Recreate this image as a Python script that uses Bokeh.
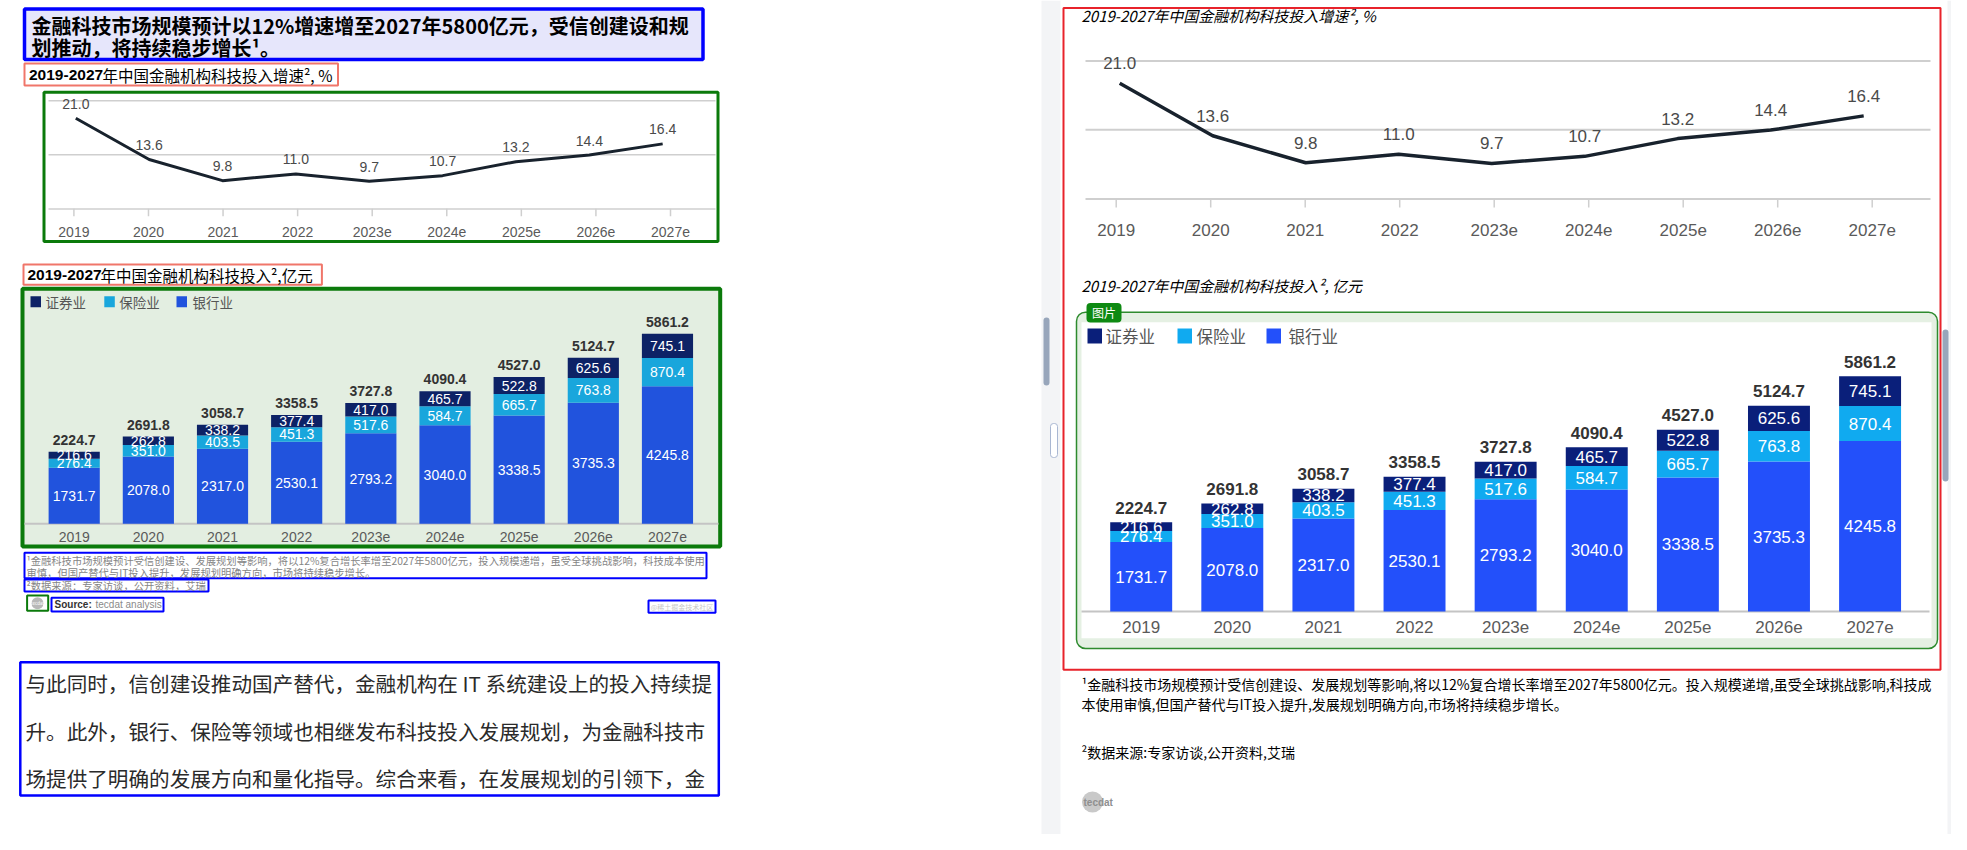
import numpy as np
from bokeh.plotting import figure
from bokeh.models import Range1d, ColumnDataSource
from bokeh.core.properties import value
from bokeh.embed import file_html
from bokeh.resources import INLINE

# ---------------- data ----------------
YEARS = ["2019", "2020", "2021", "2022", "2023e", "2024e", "2025e", "2026e", "2027e"]
GROWTH = [21.0, 13.6, 9.8, 11.0, 9.7, 10.7, 13.2, 14.4, 16.4]
SERIES = ["证券业", "保险业", "银行业"]
SECURITIES = [216.6, 262.8, 338.2, 377.4, 417.0, 465.7, 522.8, 625.6, 745.1]
INSURANCE = [276.4, 351.0, 403.5, 451.3, 517.6, 584.7, 665.7, 763.8, 870.4]
BANKING = [1731.7, 2078.0, 2317.0, 2530.1, 2793.2, 3040.0, 3338.5, 3735.3, 4245.8]
TOTALS = [2224.7, 2691.8, 3058.7, 3358.5, 3727.8, 4090.4, 4527.0, 5124.7, 5861.2]

TITLE_LINES = ["金融科技市场规模预计以12%增速增至2027年5800亿元，受信创建设和规",
               "划推动，将持续稳步增长¹。"]
SUB1_BOLD, SUB1_REST = "2019-2027", "年中国金融机构科技投入增速², %"
SUB2_BOLD, SUB2_REST = "2019-2027", "年中国金融机构科技投入²,亿元"
NOTE_LEFT = ["¹金融科技市场规模预计受信创建设、发展规划等影响，将以12%复合增长率增至2027年5800亿元，投入规模递增，虽受全球挑战影响，科技成本使用",
             "审慎，但国产替代与IT投入提升，发展规划明确方向，市场将持续稳步增长。"]
SOURCE_LEFT = "²数据来源：专家访谈，公开资料，艾瑞"
PARAGRAPH = ["与此同时，信创建设推动国产替代，金融机构在 IT 系统建设上的投入持续提",
             "升。此外，银行、保险等领域也相继发布科技投入发展规划，为金融科技市",
             "场提供了明确的发展方向和量化指导。综合来看，在发展规划的引领下，金"]
R_TITLE1 = "2019-2027年中国金融机构科技投入增速², %"
R_TITLE2 = "2019-2027年中国金融机构科技投入², 亿元"
NOTE_RIGHT = ["¹金融科技市场规模预计受信创建设、发展规划等影响,将以12%复合增长率增至2027年5800亿元。投入规模递增,虽受全球挑战影响,科技成",
              "本使用审慎,但国产替代与IT投入提升,发展规划明确方向,市场将持续稳步增长。"]
SOURCE_RIGHT = "²数据来源:专家访谈,公开资料,艾瑞"

CJK = "Noto Sans CJK SC"
LAT = "Liberation Sans"

# ---------------- canvas ----------------
X0, X1 = 0, 1951      # page pixel at frame left / right
YB, YT = 834, 0       # page pixel at frame bottom / top

p = figure(width=X1 - X0, height=YB - YT, x_range=Range1d(X0, X1), y_range=Range1d(YB, YT),
           output_backend="svg", toolbar_location=None, min_border=0,
           x_axis_location=None, y_axis_location=None,
           outline_line_color=None, background_fill_color="white", border_fill_color="white")
p.grid.visible = False

xr_d, yr_d = {}, {}


def xr(name, p0, v0, p1, v1):
    s = (v1 - v0) / (p1 - p0)
    xr_d[name] = Range1d(start=v0 + (X0 - p0) * s, end=v0 + (X1 - p0) * s)


def yr(name, p0, v0, p1, v1):
    s = (v1 - v0) / (p1 - p0)
    yr_d[name] = Range1d(start=v0 + (YB - p0) * s, end=v0 + (YT - p0) * s)


def box(l, r, t, b, fill=None, line=None, lw=1.0, radius=0):
    kw = {}
    if radius:
        kw["border_radius"] = radius
    p.quad(left=[l], right=[r], top=[t], bottom=[b], fill_color=fill,
           line_color=line, line_width=lw, **kw)


def txt(x, y, s, size, color="#000000", font=CJK, style="normal", align="left", **kw):
    p.text(x=[x], y=[y], text=[s], text_font=value(font), text_font_size=f"{size}px",
           text_color=color, text_font_style=style, text_align=align,
           text_baseline="middle", **kw)


idx = list(range(len(YEARS)))

# ---------------- page backgrounds ----------------
box(1041, 1061, 0, 850, fill="#f3f4f6")
box(1947, 1967, 0, 850, fill="#f3f4f6")
box(1043, 1049, 317, 385, fill="#98a6bb", radius=3)
box(1050, 1057, 423, 457, fill="white", line="#a9b7d2", lw=1, radius=3)

# ---------------- line chart ----------------
GRID_LEVELS = [4.7, 14.44, 24.13]


def line_chart(tag, lab0, lab_step, pt0, pt_step, y_zero, k, gx0, gx1, tick_y0, tick_y1,
               lab_y, lab_size, val_size, val_off, lw, grid_w):
    xr(tag + "lx", lab0, 0, lab0 + lab_step * 8, 8)
    xr(tag + "px", pt0, 0, pt0 + pt_step * 8, 8)
    yr(tag + "y", y_zero, 0, y_zero - 10 * k, 10)
    p.segment(x0=[gx0] * 3, x1=[gx1] * 3, y0=GRID_LEVELS, y1=GRID_LEVELS,
              y_range_name=tag + "y", line_color="#cfcfcf", line_width=grid_w)
    p.segment(x0=idx, x1=idx, y0=[tick_y0] * 9, y1=[tick_y1] * 9,
              x_range_name=tag + "lx", line_color="#cfcfcf", line_width=1.5)
    src = ColumnDataSource(dict(x=idx, y=GROWTH, lab=[f"{v:.1f}" for v in GROWTH]))
    p.line(x="x", y="y", source=src, x_range_name=tag + "px", y_range_name=tag + "y",
           line_color="#18222d", line_width=lw, line_join="round")
    p.text(x="x", y="y", text="lab", source=src, x_range_name=tag + "px", y_range_name=tag + "y",
           y_offset=val_off, text_font=value(LAT), text_font_size=f"{val_size}px",
           text_color="#4a4a4a", text_align="center", text_baseline="middle")
    p.text(x=idx, y=[lab_y] * 9, text=YEARS, x_range_name=tag + "lx",
           text_font=value(LAT), text_font_size=f"{lab_size}px", text_color="#5a5a5a",
           text_align="center", text_baseline="middle")


def bar_chart(tag, x0, step, width, y_zero, k, ax0, ax1, lab_y, size, tot_off, colors):
    xr(tag + "x", x0, 0, x0 + step * 8, 8)
    yr(tag + "y", y_zero, 0, y_zero - k * 1000, 1000)
    p.segment(x0=[ax0], x1=[ax1], y0=[0], y1=[0], y_range_name=tag + "y",
              line_color="#c4c4c4", line_width=2)
    bottom = np.zeros(len(YEARS))
    for vals, col in zip([BANKING, INSURANCE, SECURITIES], [colors[2], colors[1], colors[0]]):
        vals = np.array(vals)
        top = bottom + vals
        src = ColumnDataSource(dict(x=idx, b=bottom, t=top, m=(bottom + top) / 2,
                                    lab=[f"{v:.1f}" for v in vals]))
        p.vbar(x="x", width=width, bottom="b", top="t", source=src, fill_color=col,
               line_color=None, x_range_name=tag + "x", y_range_name=tag + "y")
        p.text(x="x", y="m", text="lab", source=src, x_range_name=tag + "x",
               y_range_name=tag + "y", text_font=value(LAT), text_font_size=f"{size}px",
               text_color="white", text_align="center", text_baseline="middle")
        bottom = top
    tsrc = ColumnDataSource(dict(x=idx, t=bottom, lab=[f"{v:.1f}" for v in TOTALS]))
    p.text(x="x", y="t", text="lab", source=tsrc, x_range_name=tag + "x", y_range_name=tag + "y",
           y_offset=tot_off, text_font=value(LAT), text_font_size=f"{size}px",
           text_font_style="bold", text_color="#333333", text_align="center",
           text_baseline="middle")
    p.text(x=idx, y=[lab_y] * 9, text=YEARS, x_range_name=tag + "x",
           text_font=value(LAT), text_font_size=f"{size}px", text_color="#5a5a5a",
           text_align="center", text_baseline="middle")


# ================= LEFT PANEL =================
box(24, 702.5, 8.5, 59, fill="#e6e6fb", line="#0000ff", lw=3.5)
txt(31, 25, TITLE_LINES[0], 20, style="bold")
txt(31, 47, TITLE_LINES[1], 20, style="bold")

box(24, 337.5, 63, 85, line="#f0766a", lw=2)
txt(28.5, 74.5, SUB1_BOLD, 15.5, font=LAT, style="bold")
txt(102, 74.5, SUB1_REST, 15.5)

box(43.5, 717.5, 91.7, 241, fill="white", line="#0b7a0b", lw=3)
line_chart("L", 73.4, 74.575, 75.3, 73.36, 234.8, 5.575, 48, 715, 208.3, 215.7,
           231.7, 14, 14, -14.5, 3, 1.5)

box(23, 321.4, 264, 284.3, line="#f0766a", lw=2)
txt(27, 274.5, SUB2_BOLD, 15.5, font=LAT, style="bold")
txt(100, 274.5, SUB2_REST, 15.5)

box(22, 719.7, 288.3, 546, fill="#e3eee1", line="#0b7a0b", lw=4)
L_COLORS = ["#0d2266", "#19a6dc", "#2153dd"]
for sx, tx, name, col in zip([30, 103.8, 176], [45, 118.7, 192], SERIES, L_COLORS):
    box(sx, sx + 10.5, 295.7, 306.7, fill=col)
    txt(tx, 301, name, 13.5, color="#555555")
bar_chart("LB", 73.7, 74.16, 0.69, 523.3, 0.032417, 24, 718, 536, 14, -11.8, L_COLORS)

box(24, 706, 552.3, 577.7, line="#0000ff", lw=2)
txt(26, 560, NOTE_LEFT[0], 10.3, color="#858585")
txt(26, 572, NOTE_LEFT[1], 10.3, color="#858585")
box(24, 208, 579, 591, line="#0000ff", lw=2)
txt(26, 585, SOURCE_LEFT, 10.3, color="#858585")

box(26.6, 47.7, 595, 610.3, line="#0b7a0b", lw=2)
p.scatter(x=[37], y=[602.7], size=12, marker="circle", fill_color="#b8b8b8", line_color=None)
txt(37, 602.7, "tecdat", 4.5, color="white", align="center")
box(51, 163, 597.3, 611, line="#0000ff", lw=2)
txt(54, 604.3, "Source:", 10, color="#333333", font=LAT, style="bold")
txt(95, 604.3, "tecdat analysis", 10, color="#8a8a8a", font=LAT)
box(648, 715, 600, 612.3, line="#0000ff", lw=2)
txt(681.5, 606.2, "@稀土掘金技术社区", 7, color="#c8c8c8", align="center")

box(19.8, 718.3, 661.7, 795, line="#0000ff", lw=2.5)
for yy, line in zip([682, 730, 777], PARAGRAPH):
    txt(25, yy, line, 20.6, color="#2a2a2a")

# ================= RIGHT PANEL =================
box(1060, 1946, 0, 850, fill="white")
box(1942, 1948, 329, 481, fill="#98a6bb", radius=3)
txt(1081, 15, R_TITLE1, 15, style="italic")
line_chart("R", 1115.7, 94.5, 1119.2, 93.0, 231.9, 7.106, 1085, 1930, 198.7, 207,
           229.5, 17, 17, -20, 3.5, 2)
txt(1081, 284.5, R_TITLE2, 15, style="italic")

box(1076, 1937, 311.7, 648, fill="#e5f0e3", line="#2e8b2e", lw=1.5, radius=9)
box(1081, 1931, 321.7, 637.7, fill="white")
box(1086, 1121, 302.5, 322, fill="#0e8a12", radius=4)
txt(1103.5, 312.3, "图片", 12, color="white", align="center")
R_COLORS = ["#0a1f7a", "#10aaf0", "#2350fa"]
for sx, tx, name, col in zip([1087, 1177, 1266], [1105, 1196, 1288], SERIES, R_COLORS):
    box(sx, sx + 14.5, 328, 343, fill=col)
    txt(tx, 335.5, name, 16.5, color="#555555")
bar_chart("RB", 1140.7, 91.11, 0.68, 611, 0.040145, 1081, 1929, 626.7, 17, -14.5, R_COLORS)

box(1063, 1940, 7.5, 669.3, line="#e8232b", lw=2)

txt(1081, 683, NOTE_RIGHT[0], 14, color="#000000")
txt(1081, 703.5, NOTE_RIGHT[1], 14, color="#000000")
txt(1081, 751, SOURCE_RIGHT, 14, color="#000000")
p.scatter(x=[1092], y=[801.5], size=21, marker="circle", fill_color="#c9c9c9", line_color=None)
txt(1083, 801.5, "tecdat", 10, color="#8f8f8f", font=LAT, style="bold")

p.extra_x_ranges = xr_d
p.extra_y_ranges = yr_d

open("out.html", "w").write(file_html(p, INLINE))
